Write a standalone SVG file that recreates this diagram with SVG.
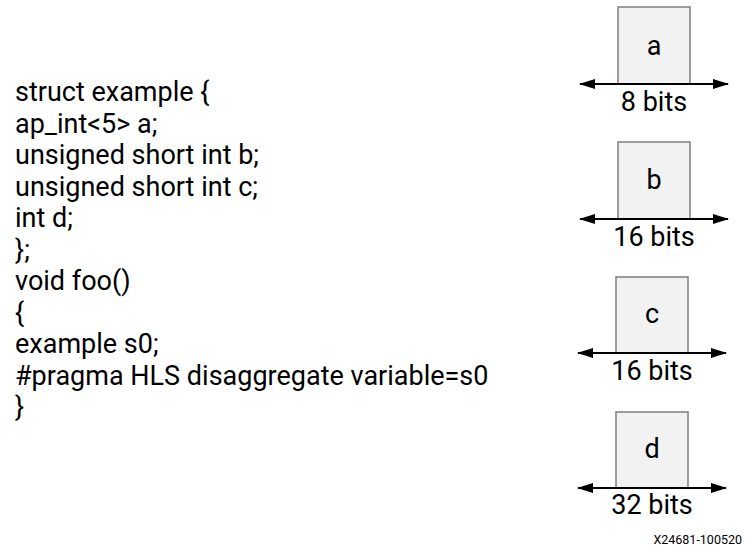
<svg xmlns="http://www.w3.org/2000/svg" width="747" height="548" viewBox="0 0 747 548">
<defs>
<style>
.code{font-family:Roboto,"Liberation Sans",sans-serif;font-size:27px;fill:#000}
.lbl{font-family:Roboto,"Liberation Sans",sans-serif;font-size:27px;fill:#000;text-anchor:middle}
.box{fill:#f2f2f2;stroke:#7f7f7f;stroke-width:1.5}
.dim{stroke:#000;stroke-width:2;fill:none;marker-start:url(#ah);marker-end:url(#ah)}
.id{font-family:Roboto,"Liberation Sans",sans-serif;font-size:12.5px;fill:#000;text-anchor:end}
</style>
<marker id="ah" viewBox="0 0 16 10" refX="15" refY="5" markerWidth="16" markerHeight="10" markerUnits="userSpaceOnUse" orient="auto-start-reverse">
<path d="M0,0 L16,5 L0,10 Z" fill="#000"/>
</marker>
</defs>
<rect width="747" height="548" fill="#fff"/>
<g id="code">
<text class="code" x="15" y="101">struct example {</text>
<text class="code" x="15" y="132.5">ap_int&lt;5&gt; a;</text>
<text class="code" x="15" y="164">unsigned short int b;</text>
<text class="code" x="15" y="195.5">unsigned short int c;</text>
<text class="code" x="15" y="227">int d;</text>
<text class="code" x="15" y="258.5">};</text>
<text class="code" x="15" y="290">void foo()</text>
<text class="code" x="15" y="321.5">{</text>
<text class="code" x="15" y="353">example s0;</text>
<text class="code" x="15" y="384.5">#pragma HLS disaggregate variable=s0</text>
<text class="code" x="15" y="416">}</text>
</g>
<g id="node-a">
<rect class="box" x="618" y="7" width="72" height="77"/>
<text class="lbl" x="654" y="55">a</text>
<text class="lbl" x="654" y="111">8 bits</text>
</g>
<g id="node-b">
<rect class="box" x="618" y="142" width="72" height="77"/>
<text class="lbl" x="654" y="189">b</text>
<text class="lbl" x="654" y="246">16 bits</text>
</g>
<g id="node-c">
<rect class="box" x="616" y="277" width="72" height="76"/>
<text class="lbl" x="652" y="323">c</text>
<text class="lbl" x="652" y="380">16 bits</text>
</g>
<g id="node-d">
<rect class="box" x="616" y="412" width="72" height="76"/>
<text class="lbl" x="652" y="458">d</text>
<text class="lbl" x="652" y="514">32 bits</text>
</g>
<g id="connectors">
<line class="dim" x1="580" y1="84" x2="728" y2="84"/>
<line class="dim" x1="580" y1="219" x2="728" y2="219"/>
<line class="dim" x1="578" y1="353" x2="726" y2="353"/>
<line class="dim" x1="578" y1="488" x2="726" y2="488"/>
</g>
<text class="id" x="742" y="544">X24681-100520</text>
</svg>
